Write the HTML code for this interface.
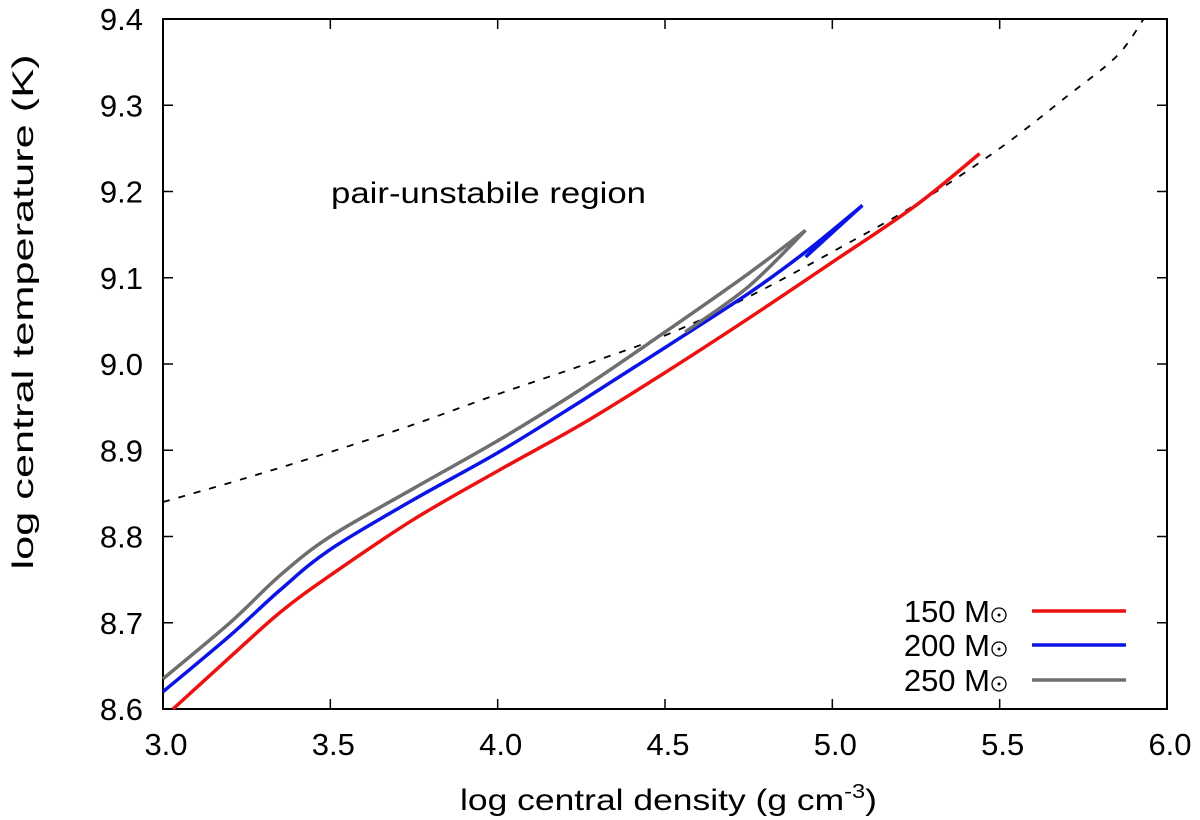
<!DOCTYPE html>
<html><head><meta charset="utf-8"><style>
body{margin:0;background:#fff;}
svg{display:block;font-family:"Liberation Sans",sans-serif;}
</style></head><body>
<svg id="chart" width="1200" height="820">
<g id="axes"></g>
<g id="series"></g>
<g id="legend"></g>
</svg>
<script>
const xTicks=[3.0,3.5,4.0,4.5,5.0,5.5,6.0];
const yTicks=[8.6,8.7,8.8,8.9,9.0,9.1,9.2,9.3,9.4];
const xLabels=["3.0","3.5","4.0","4.5","5.0","5.5","6.0"];
const yLabels=["8.6","8.7","8.8","8.9","9.0","9.1","9.2","9.3","9.4"];
const redX=[3.03,3.2,3.35,3.5,3.75,4.0,4.25,4.5,4.75,5.0,5.25,5.44];
const redY=[8.6,8.66,8.712,8.755,8.82,8.876,8.93,8.99,9.053,9.118,9.184,9.244];
const blueX=[3.0,3.2,3.35,3.5,3.75,4.0,4.25,4.5,4.75,4.92,5.09];
const blueY=[8.62,8.685,8.738,8.785,8.843,8.897,8.957,9.019,9.082,9.13,9.184];
const blueHookX=[5.09,4.92];
const blueHookY=[9.184,9.124];
const grayX=[3.0,3.2,3.35,3.5,3.75,4.0,4.25,4.5,4.75,4.92];
const grayY=[8.635,8.7,8.755,8.8,8.856,8.911,8.971,9.037,9.105,9.155];
const grayHookX=[4.92,4.75,4.56];
const grayHookY=[9.155,9.09,9.037];
const dashX=[3.0,3.25,3.5,3.75,4.0,4.25,4.5,4.75,5.0,5.25,5.5,5.7,5.85,5.93];
const dashY=[8.84,8.868,8.898,8.93,8.965,8.998,9.033,9.078,9.13,9.185,9.25,9.31,9.357,9.4];
const seriesNames=["150 M","200 M","250 M"];
const L=163,R=1167,T=19,B=709;
const sx=v=>L+(v-3)/(6-3)*(R-L);
const sy=v=>B-(v-8.6)/(9.4-8.6)*(B-T);
const NS="http://www.w3.org/2000/svg";
function mk(tag,parent,attrs){const e=document.createElementNS(NS,tag);for(const k in attrs)e.setAttribute(k,attrs[k]);parent.appendChild(e);return e;}
function smooth(xs,ys){
 const p=xs.map((v,i)=>[sx(v),sy(ys[i])]);
 let d=`M${p[0][0]},${p[0][1]}`;
 for(let i=0;i<p.length-1;i++){
  const p0=p[Math.max(i-1,0)],p1=p[i],p2=p[i+1],p3=p[Math.min(i+2,p.length-1)];
  const c1=[p1[0]+(p2[0]-p0[0])/6,p1[1]+(p2[1]-p0[1])/6];
  const c2=[p2[0]-(p3[0]-p1[0])/6,p2[1]-(p3[1]-p1[1])/6];
  d+=` C${c1[0].toFixed(1)},${c1[1].toFixed(1)} ${c2[0].toFixed(1)},${c2[1].toFixed(1)} ${p2[0].toFixed(1)},${p2[1].toFixed(1)}`;
 }
 return d;
}
const ax=document.getElementById('axes');
const fr=mk('rect',ax,{x:L,y:T,width:R-L,height:B-T,fill:'none',stroke:'#000','stroke-width':2});


xTicks.forEach((v,i)=>{
 const t=mk('path',ax,{d:`M${sx(v)},${B}v-10M${sx(v)},${T}v10`,stroke:'#000','stroke-width':1.5});
 
 
 const lb=mk('text',ax,{x:sx(v)+3,y:755,'font-size':31,'text-anchor':'middle'});lb.textContent=xLabels[i];
 
 
});
yTicks.forEach((v,i)=>{
 const t=mk('path',ax,{d:`M${L},${sy(v)}h10M${R},${sy(v)}h-10`,stroke:'#000','stroke-width':1.5});
 
 
 const lb=mk('text',ax,{x:143,y:sy(v)+11,'font-size':31,'text-anchor':'end'});lb.textContent=yLabels[i];
 
 
});
const xt=mk('text',ax,{x:460,y:810,'font-size':30,textLength:417,lengthAdjust:'spacingAndGlyphs'});
xt.innerHTML='log central density (g cm<tspan dy="-12" font-size="20">-3</tspan><tspan dy="12">)</tspan>';


const yt=mk('text',ax,{x:0,y:0,'font-size':30,'text-anchor':'middle',transform:'translate(33,312) rotate(-90)',textLength:515,lengthAdjust:'spacingAndGlyphs'});
yt.textContent='log central temperature (K)';


const an=mk('text',ax,{x:331,y:203,'font-size':30,textLength:315,lengthAdjust:'spacingAndGlyphs'});
an.textContent='pair-unstabile region';


const sg=document.getElementById('series');
const d=mk('path',sg,{d:smooth(dashX,dashY),fill:'none',stroke:'#000','stroke-width':1.8,'stroke-dasharray':'7,9'});


const r=mk('path',sg,{d:smooth(redX,redY),fill:'none',stroke:'#ee1111','stroke-width':3.5,'stroke-linejoin':'round'});


const b=mk('path',sg,{d:smooth(blueX,blueY)+' '+smooth(blueHookX,blueHookY),fill:'none',stroke:'#0a14e6','stroke-width':3.5,'stroke-linejoin':'round'});


const g=mk('path',sg,{d:smooth(grayX,grayY)+' '+smooth(grayHookX,grayHookY),fill:'none',stroke:'#6e6e6e','stroke-width':3.5,'stroke-linejoin':'round'});


const lg=document.getElementById('legend');
const cols=['#ee1111','#0a14e6','#6e6e6e'];
[611,645,680].forEach((y,i)=>{
 const t=mk('text',lg,{x:990,y:y+11,'font-size':31,'text-anchor':'end'});t.textContent=seriesNames[i];
 
 
 const c=mk('circle',lg,{cx:999,cy:y+4,r:7,fill:'none',stroke:'#000','stroke-width':1.3});
 
 
 const dt=mk('circle',lg,{cx:999,cy:y+4,r:1.5,fill:'#000'});
 
 
 const l=mk('line',lg,{x1:1032,x2:1126,y1:y,y2:y,stroke:cols[i],'stroke-width':3.5});
 
 
});
</script>
</body></html>
